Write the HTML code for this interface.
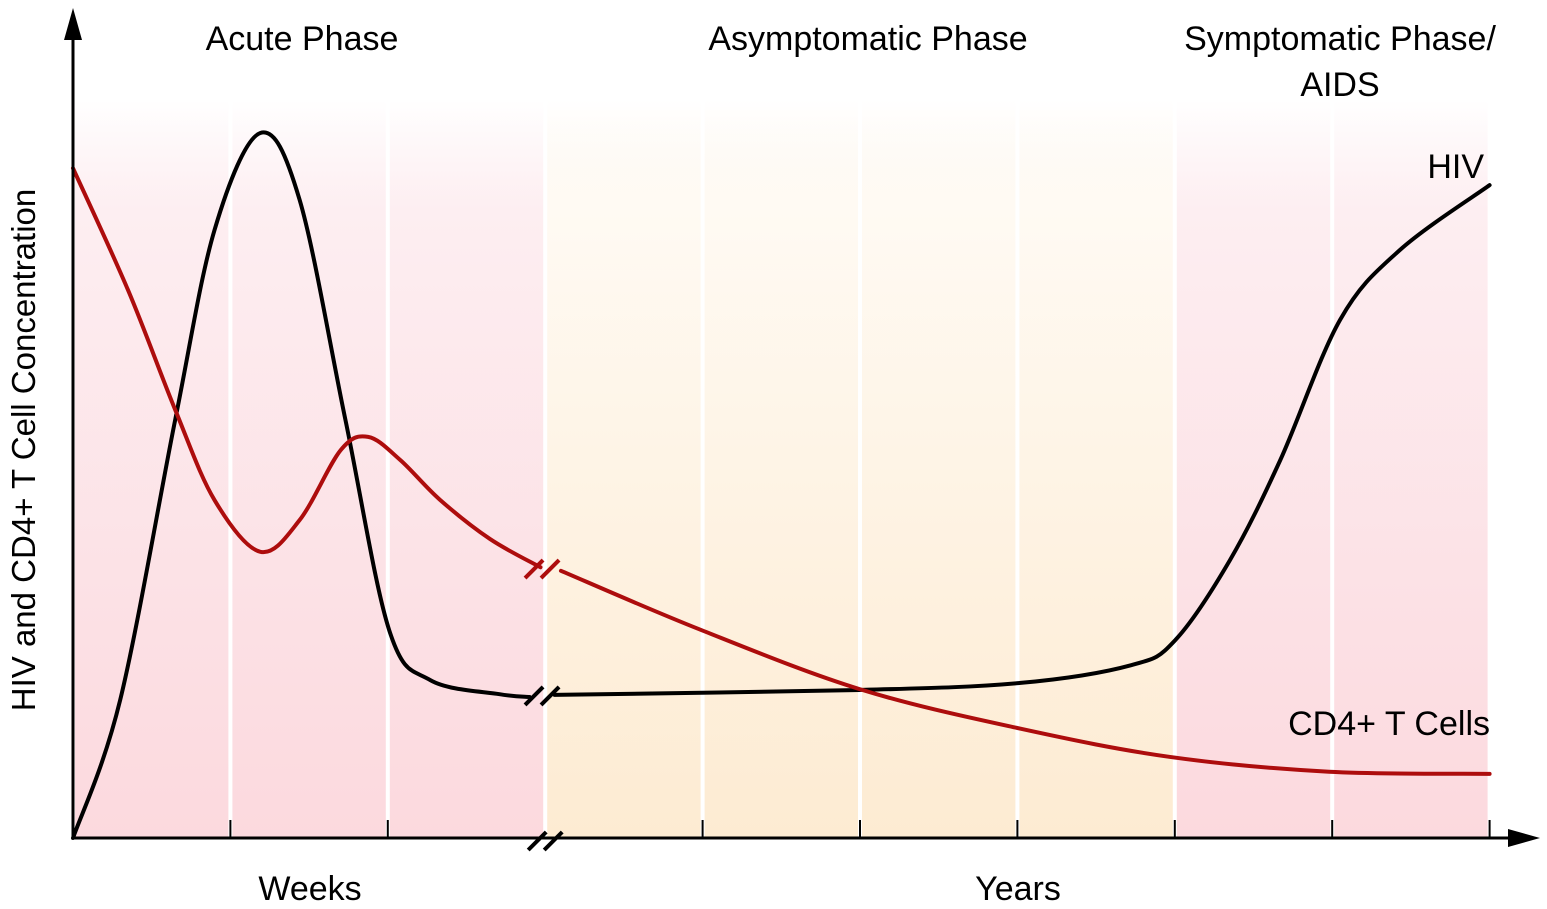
<!DOCTYPE html>
<html><head><meta charset="utf-8"><style>
html,body{margin:0;padding:0;background:#fff;}
svg{display:block;font-family:"Liberation Sans",sans-serif;}
</style></head><body>
<svg id="chart" width="1547" height="909" viewBox="0 0 1547 909">
<defs>
<linearGradient id="gPink" x1="0" y1="0" x2="0" y2="1"><stop offset="0" stop-color="#fdebef" stop-opacity="0"/><stop offset="0.15" stop-color="#fdeef1"/><stop offset="1" stop-color="#fcd9de"/></linearGradient>
<linearGradient id="gPeach" x1="0" y1="0" x2="0" y2="1"><stop offset="0" stop-color="#fdf3e6" stop-opacity="0"/><stop offset="0.15" stop-color="#fffaf3"/><stop offset="1" stop-color="#fdebd2"/></linearGradient>
</defs>
<g id="bands"></g>
<g id="curves"></g>
<g id="axes"></g>
<text x="302" y="50" font-size="34" text-anchor="middle">Acute Phase</text>
<text x="868" y="50" font-size="34" text-anchor="middle">Asymptomatic Phase</text>
<text x="1340" y="50" font-size="34" text-anchor="middle">Symptomatic Phase/</text>
<text x="1340" y="96" font-size="34" text-anchor="middle">AIDS</text>
<text x="1484" y="178" font-size="34" text-anchor="end">HIV</text>
<text x="1490" y="735" font-size="34" text-anchor="end">CD4+ T Cells</text>
<text x="310" y="900" font-size="34" text-anchor="middle">Weeks</text>
<text x="1018" y="900" font-size="34" text-anchor="middle">Years</text>
<text transform="translate(35,450) rotate(-90)" font-size="33" text-anchor="middle">HIV and CD4+ T Cell Concentration</text>
</svg>
<script>
const tickUnits=[0,1,2,3,4,5,6,7,8,9];
const bandPhases=["acute","acute","acute","asym","asym","asym","asym","symp","symp"];
const hivX1=[0,0.3,0.65,0.9,1.19,1.44,1.73,2.01,2.27,2.71,2.9];
const hivY1=[0,19.6,59.4,86.3,100,90.5,59.4,29.4,22.4,20.4,20];
const hivX2=[3.06,5.0,6.02,6.72,7.0,7.35,7.67,8.05,8.43,9.0];
const hivY2=[20.3,21,22,24.5,28,39.4,53.6,73.5,83.4,92.6];
const cd4X1=[0,0.35,0.65,0.9,1.19,1.44,1.7,1.875,2.08,2.33,2.65,2.97];
const cd4Y1=[95,77.7,60.7,47.9,40.6,45.1,55,56.9,53.6,48,42.4,38.4];
const cd4X2=[3.1,3.98,5.0,6.02,6.97,7.98,9];
const cd4Y2=[37.9,29.6,21.1,15.5,11.5,9.4,9.1];

const NS="http://www.w3.org/2000/svg";
const X=u=>73+u*157.4, Y=v=>838-v*7.05;
function mk(tag,attrs,parent){const e=document.createElementNS(NS,tag);for(const k in attrs)e.setAttribute(k,attrs[k]);parent.appendChild(e);return e;}
const bands=document.getElementById('bands'),curves=document.getElementById('curves'),axes=document.getElementById('axes');
bandPhases.forEach((p,i)=>{
 const r=mk('rect',{x:X(tickUnits[i])+2,y:100,width:X(tickUnits[i+1])-X(tickUnits[i])-4,height:738,fill:p==="asym"?"url(#gPeach)":"url(#gPink)"},bands);
 
 
});
function path(xs,ys){
 const P=xs.map((x,i)=>[X(x),Y(ys[i])]);
 let d="M"+P[0][0]+","+P[0][1];
 for(let i=0;i<P.length-1;i++){
  const p0=P[i-1]||P[i],p1=P[i],p2=P[i+1],p3=P[i+2]||P[i+1];
  const c1=[p1[0]+(p2[0]-p0[0])/6,p1[1]+(p2[1]-p0[1])/6];
  const c2=[p2[0]-(p3[0]-p1[0])/6,p2[1]-(p3[1]-p1[1])/6];
  d+=" C"+c1+" "+c2+" "+p2;
 }
 return d;
}
function series(xs,ys,col,name){
 const e=mk('path',{d:path(xs,ys),fill:"none",stroke:col,"stroke-width":4,"stroke-linecap":"round"},curves);
 
 
}
series(hivX1,hivY1,"#000","hiv-line-weeks");
series(hivX2,hivY2,"#000","hiv-line-years");
series(cd4X1,cd4Y1,"#ad0d0d","cd4-line-weeks");
series(cd4X2,cd4Y2,"#ad0d0d","cd4-line-years");
function brk(cx,cy,col,name){
 [-8,8].forEach(o=>{const l=mk('line',{x1:cx+o-9,y1:cy+9,x2:cx+o+9,y2:cy-9,stroke:col,"stroke-width":4},curves);
 
 });
}
brk(X(2.98),Y((cd4Y1[cd4Y1.length-1]+cd4Y2[0])/2),"#ad0d0d","cd4-break-mark");
brk(X(2.98),Y((hivY1[hivY1.length-1]+hivY2[0])/2),"#000","hiv-break-mark");
let a=mk('line',{x1:73,y1:838,x2:73,y2:30,stroke:"#000","stroke-width":3},axes);

a=mk('polygon',{points:"73,8 64,40 82,40",fill:"#000"},axes);

a=mk('line',{x1:73,y1:838,x2:1515,y2:838,stroke:"#000","stroke-width":3},axes);

a=mk('polygon',{points:"1540,838 1508,829 1508,847",fill:"#000"},axes);

tickUnits.slice(1).forEach(u=>{
 if(u===3){brk(X(u),841,"#000","x-axis-break-mark");return;}
 const t=mk('line',{x1:X(u),y1:820,x2:X(u),y2:838,stroke:"#000","stroke-width":2},axes);
 
 
});
</script>
</body></html>
